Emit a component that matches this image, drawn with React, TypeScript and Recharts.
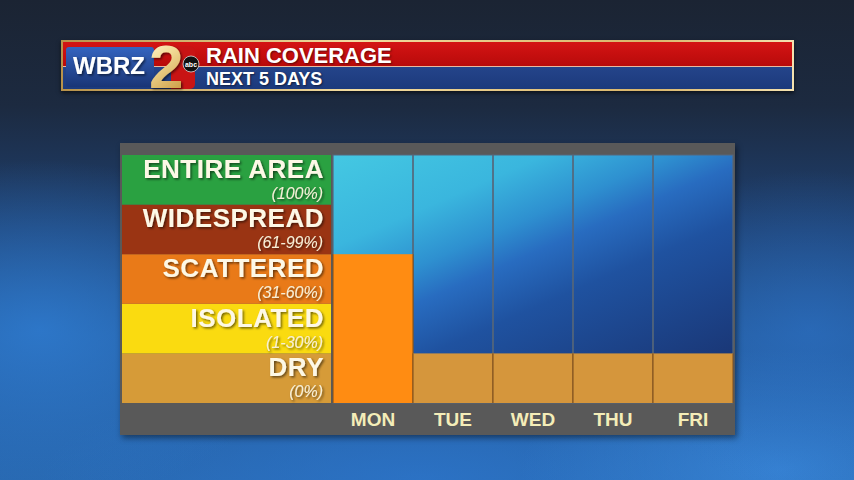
import { BarChart, Bar, XAxis, YAxis, CartesianGrid, Cell } from "recharts";

// rain coverage level per day: 1 = dry ... 5 = entire area
const days = ["MON", "TUE", "WED", "THU", "FRI"];
const coverageLevel = [3, 1, 1, 1, 1];

const levelNames = ["DRY", "ISOLATED", "SCATTERED", "WIDESPREAD", "ENTIRE AREA"];
const levelRanges = ["(0%)", "(1-30%)", "(31-60%)", "(61-99%)", "(100%)"];
const levelTicks = [0.5, 1.5, 2.5, 3.5, 4.5];

const rowColors = ["#d69b38", "#fadb10", "#e97a18", "#9a3413", "#2aa141"];
const barColors = ["#d5963c", "#f8d814", "#ff8c12", "#a23a15", "#2aa141"];

const data = days.map((day, i) => ({ day, level: coverageLevel[i] }));

const FONT = '"Liberation Sans", Arial, Helvetica, sans-serif';
const AXIS_W = 211;
const ROW_H = 49.6;

const RowTick = (props: any) => {
  const { x, y, payload } = props;
  const i = levelTicks.indexOf(payload.value);
  const left = x - AXIS_W;
  const right = x - 2;
  return (
    <g>
      <rect x={left} y={y - ROW_H / 2} width={right - left} height={ROW_H} fill={rowColors[i]} />
      <text
        x={right - 7}
        y={y - 2}
        textAnchor="end"
        fontFamily={FONT}
        fontWeight={700}
        fontSize={26}
        letterSpacing={0.5}
        fill="#fdf8e6"
        filter="url(#txtShadow)"
      >
        {levelNames[i]}
      </text>
      <text
        x={right - 8}
        y={y + 19}
        textAnchor="end"
        fontFamily={FONT}
        fontStyle="italic"
        fontSize={16}
        fill="#f6efd8"
        filter="url(#txtShadow)"
      >
        {levelRanges[i]}
      </text>
    </g>
  );
};

const CellShape = (props: any) => {
  const { x, y, width, height, fill } = props;
  return (
    <g>
      <rect x={x} y={y} width={width} height={height} fill={fill} />
      <line x1={x} x2={x} y1={y} y2={y + height} stroke="#7a4d1c" strokeWidth={1} />
      <line x1={x + width} x2={x + width} y1={y} y2={y + height} stroke="#7a4d1c" strokeWidth={1} />
    </g>
  );
};

const Header = () => (
  <div style={{ position: "absolute", left: 61, top: 40, width: 733, height: 51 }}>
    <div
      style={{
        position: "absolute",
        inset: 0,
        background: "linear-gradient(90deg, #b8924a, #f2dca0 40%, #d9b56a 80%, #f4e2b0)",
        boxShadow: "0 2px 4px rgba(0,0,0,0.6)",
      }}
    />
    <div style={{ position: "absolute", left: 2, top: 2, right: 2, height: 24, background: "linear-gradient(180deg, #d41414, #b80a0a)" }} />
    <div style={{ position: "absolute", left: 2, top: 26, right: 2, height: 1, background: "#e9b9a0" }} />
    <div style={{ position: "absolute", left: 2, top: 27, right: 2, height: 22, background: "linear-gradient(180deg, #24448a, #1c3a7c)" }} />
    <div
      style={{
        position: "absolute",
        left: 5,
        top: 7,
        width: 88,
        height: 40,
        borderRadius: 3,
        background: "linear-gradient(180deg, #3464c0, #1a3576)",
      }}
    />
    <svg style={{ position: "absolute", left: 0, top: -20, overflow: "visible" }} width={150} height={90}>
      <defs>
        <linearGradient id="goldTwo" x1="0" y1="0" x2="0.4" y2="1">
          <stop offset="0" stopColor="#fffbe0" />
          <stop offset="0.45" stopColor="#f3dc98" />
          <stop offset="1" stopColor="#cfa24c" />
        </linearGradient>
      </defs>
      <text x={12} y={54} fontFamily={FONT} fontWeight={700} fontSize={24} fill="#ffffff" filter="url(#txtShadow)">
        WBRZ
      </text>
      <path d="M110 26 L128 26 Q134 26 134 32 L134 64 Q134 69 128 69 L110 69 Z" fill="#c81414" />
      <text x={88} y={68} fontFamily={FONT} fontWeight={700} fontSize={62} fill="url(#goldTwo)" filter="url(#txtShadow)">
        2
      </text>
      <circle cx={130} cy={44} r={8} fill="#111" stroke="#ddd" strokeWidth={0.8} />
      <text x={130} y={46.5} textAnchor="middle" fontFamily={FONT} fontWeight={700} fontSize={7} fill="#fff">
        abc
      </text>
    </svg>
    <div
      style={{
        position: "absolute",
        left: 145,
        top: 3,
        fontFamily: FONT,
        fontWeight: 700,
        fontSize: 22,
        lineHeight: "26px",
        color: "#ffffff",
        textShadow: "1px 1px 2px rgba(0,0,0,0.5)",
      }}
    >
      RAIN COVERAGE
    </div>
    <div
      style={{
        position: "absolute",
        left: 145,
        top: 28,
        fontFamily: FONT,
        fontWeight: 700,
        fontSize: 18,
        lineHeight: "22px",
        color: "#ffffff",
        textShadow: "1px 1px 2px rgba(0,0,0,0.5)",
      }}
    >
      NEXT 5 DAYS
    </div>
  </div>
);

export default function App() {
  return (
    <div
      style={{
        position: "fixed",
        left: 0,
        top: 0,
        width: 854,
        height: 480,
        overflow: "hidden",
        background: [
          "radial-gradient(ellipse 260px 170px at 40px 330px, rgba(48,128,215,0.75), transparent)",
          "radial-gradient(ellipse 200px 160px at 810px 330px, rgba(45,115,200,0.6), transparent)",
          "radial-gradient(ellipse 260px 120px at 780px 470px, rgba(60,140,225,0.7), transparent)",
          "radial-gradient(ellipse 380px 110px at 420px 480px, rgba(45,118,205,0.7), transparent)",
          "linear-gradient(180deg, #1b2433 0%, #1c2a40 22%, #1f4274 48%, #245a9c 70%, #2868b0 100%)",
        ].join(", "),
      }}
    >
      <svg width={0} height={0} style={{ position: "absolute" }}>
        <defs>
          <linearGradient id="plotBg" x1="0" y1="0" x2="0.7" y2="1">
            <stop offset="0" stopColor="#44c8e2" />
            <stop offset="0.25" stopColor="#3ab6de" />
            <stop offset="0.4" stopColor="#2e90d0" />
            <stop offset="0.5" stopColor="#286cc0" />
            <stop offset="0.65" stopColor="#1f52a0" />
            <stop offset="1" stopColor="#1a3878" />
          </linearGradient>
          <filter id="txtShadow" x="-10%" y="-20%" width="130%" height="160%">
            <feDropShadow dx="1.5" dy="1.5" stdDeviation="1" floodColor="#000" floodOpacity="0.55" />
          </filter>
        </defs>
      </svg>
      <Header />
      <div
        style={{
          position: "absolute",
          left: 120,
          top: 143,
          width: 615,
          height: 292,
          background: "#595959",
          boxShadow: "2px 3px 6px rgba(0,0,0,0.45)",
        }}
      />
      <div style={{ position: "absolute", left: 0, top: 0 }}>
        <BarChart
          width={854}
          height={480}
          data={data}
          margin={{ top: 155, right: 121, bottom: 45, left: 122 }}
          barCategoryGap={0}
          barGap={0}
        >
          <CartesianGrid fill="url(#plotBg)" horizontal={false} vertical={false} stroke="none" />
          <XAxis
            dataKey="day"
            height={32}
            axisLine={false}
            tickLine={false}
            tickSize={0}
            tickMargin={10}
            interval={0}
            tick={{ fill: "#f4edb8", fontSize: 19, fontWeight: 700, fontFamily: FONT }}
          />
          <YAxis
            type="number"
            domain={[0, 5]}
            ticks={levelTicks}
            interval={0}
            width={AXIS_W}
            axisLine={false}
            tickLine={false}
            tickSize={0}
            tickMargin={0}
            tick={(p: any) => <RowTick {...p} />}
          />
          <Bar
            dataKey="level"
            isAnimationActive={false}
            background={{ fill: "none", stroke: "#56677a", strokeWidth: 1.2 }}
            shape={(p: any) => <CellShape {...p} />}
          >
            {data.map((d) => (
              <Cell key={d.day} fill={barColors[d.level - 1]} />
            ))}
          </Bar>
        </BarChart>
      </div>
    </div>
  );
}
